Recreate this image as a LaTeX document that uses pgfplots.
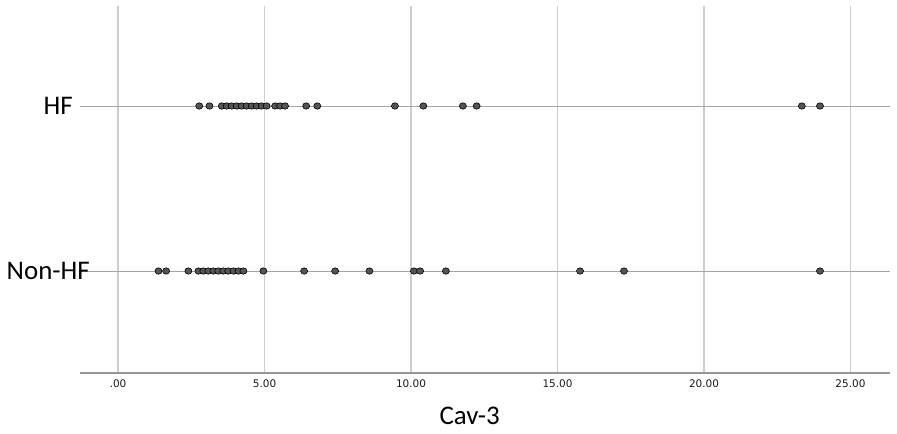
\documentclass[border=0pt]{standalone}
\usepackage{pgfplots}
\pgfplotsset{compat=1.18}
\usepackage{fontspec}
\setmainfont{Carlito}
\newfontfamily\tickfont{DejaVu Sans}

\definecolor{gridgray}{RGB}{205,205,205}
\definecolor{linegray}{RGB}{165,165,165}
\definecolor{axisgray}{RGB}{150,150,150}
\definecolor{markgray}{RGB}{85,85,85}

\begin{document}
\begin{tikzpicture}
  \begin{axis}[
    scale only axis,
    width=810bp, height=367bp,
    xmin=-1.30, xmax=26.35,
    ymin=0.382, ymax=2.606,
    axis x line*=bottom,
    axis y line=none,
    axis line style={-, axisgray, line width=1.5bp},
    xtick={0,5,10,15,20,25},
    xticklabels={.00,5.00,10.00,15.00,20.00,25.00},
    xticklabel style={font=\tickfont\fontsize{10.5}{11}\selectfont, text=black!90, yshift=-3bp},
    major tick length=0pt,
    xmajorgrids=true,
    x grid style={gridgray, line width=1.8bp},
    clip=false,
    ]
    % category lines
    \addplot[linegray, line width=0.9bp] coordinates {(-1.30,2)(26.35,2)};
    \addplot[linegray, line width=0.9bp] coordinates {(-1.30,1)(26.35,1)};
    % Non-HF
    \addplot[only marks, mark=*, mark size=3.2bp,
      mark options={fill=markgray, draw=black, line width=0.6bp, xscale=1.1}]
      coordinates {
        (1.38,1)(1.64,1)(2.40,1)(2.74,1)(2.91,1)(3.08,1)(3.25,1)(3.42,1)
        (3.59,1)(3.76,1)(3.94,1)(4.11,1)(4.28,1)(4.96,1)(6.35,1)(7.41,1)
        (8.58,1)(10.10,1)(10.31,1)(11.19,1)(15.77,1)(17.27,1)(23.96,1)
      };
    % HF
    \addplot[only marks, mark=*, mark size=3.2bp,
      mark options={fill=markgray, draw=black, line width=0.6bp, xscale=1.1}]
      coordinates {
        (2.77,2)(3.12,2)(3.54,2)(3.71,2)(3.88,2)(4.05,2)(4.22,2)(4.39,2)
        (4.56,2)(4.73,2)(4.90,2)(5.07,2)(5.36,2)(5.53,2)(5.70,2)(6.42,2)
        (6.80,2)(9.45,2)(10.42,2)(11.77,2)(12.24,2)(23.34,2)(23.96,2)
      };
    \node[anchor=east, inner sep=0pt, font=\fontsize{27}{30}\selectfont] at (axis cs:-1.54,2) {HF};
    \node[anchor=east, inner sep=0pt, font=\fontsize{27}{30}\selectfont] at (axis cs:-0.96,1) {Non-HF};
    \node[inner sep=0pt, font=\fontsize{27}{30}\selectfont] at (axis cs:12.0,0.382) [yshift=-43bp] {Cav-3};
  \end{axis}
  \pgfresetboundingbox
  \path (-80bp,-61bp) rectangle (817bp,373bp);
\end{tikzpicture}
\end{document}
